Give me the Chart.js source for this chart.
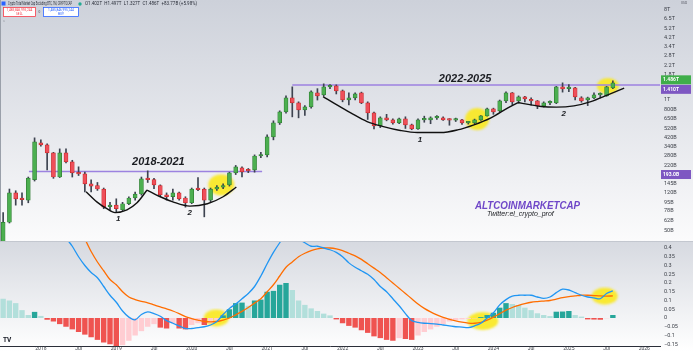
<!DOCTYPE html>
<html>
<head>
<meta charset="utf-8">
<script src="https://cdn.jsdelivr.net/npm/chart.js@4.4.1/dist/chart.umd.min.js"></script>
<style>
  html, body { margin: 0; padding: 0; background: #fff; }
  #chart { display: block; }
</style>
</head>
<body>
<canvas id="chart" width="693" height="351"></canvas>
<script>
// monthly candles, first one is Jul 2017 (index 0), values in billions USD
var open = [36,60,118,103,100,160,374,357,296,170,
  296,241,187,183,145,140,129,86,89,80,
  92,105,115,163,160,140,113,108,118,105,
  94,129,129,100,129,135,142,187,210,200,
  200,276,283,429,592,762,1052,938,798,855,
  1180,1127,1355,1387,1236,1005,1052,1180,938,745,
  552,664,634,592,649,565,515,634,634,664,
  664,634,630,634,592,592,634,695,817,780,
  982,1180,982,1076,985,982,875,938,938,1355,
  1300,1324,1052,1005,1052,1127,1102,1324];
var high = [75,129,124,118,170,419,400,365,300,325,
  325,250,215,190,159,150,132,95,103,95,
  108,120,170,196,165,142,118,129,120,108,
  132,168,132,132,140,145,190,222,215,207,
  283,300,449,620,780,1100,1355,960,880,1236,
  1300,1452,1430,1419,1260,1180,1180,1200,960,760,
  680,720,650,660,680,575,650,690,680,700,
  680,650,660,640,610,645,700,830,830,1000,
  1208,1190,1100,1090,1050,990,960,980,1370,1486,
  1430,1340,1080,1070,1180,1180,1370,1560];
var low = [34,59,89,89,94,155,345,200,165,168,
  235,170,176,121,121,125,82,80,76,78,
  90,100,112,150,130,110,100,100,100,85,
  92,124,68,96,125,130,138,180,170,188,
  190,265,270,400,570,740,679,664,700,830,
  1000,1100,1300,1150,960,895,1000,920,640,515,
  530,620,575,580,520,505,510,600,580,640,
  625,560,610,570,575,580,625,690,720,760,
  940,900,930,960,890,820,850,900,920,1200,
  1210,1000,950,880,1030,1050,1090,1300];
var close = [60,118,103,101,166,382,357,296,170,296,
  241,187,183,145,138,129,85,87,82,92,
  105,115,163,160,142,113,108,118,103,94,
  129,127,100,129,135,140,187,215,191,196,
  276,283,429,592,762,1052,938,798,855,1208,
  1102,1355,1370,1236,1005,1052,1153,938,745,552,
  664,634,592,649,565,515,634,640,664,670,
  634,630,634,592,595,634,695,817,762,982,
  1180,959,1076,1028,980,875,938,940,1355,1294,
  1340,1076,982,1052,1127,1153,1355,1486];

// MACD pane
var macdLine = [0.75,0.8,0.82,0.8,0.78,0.8,0.78,0.72,0.64,0.55,
  0.46,0.41,0.35,0.3,0.26,0.23,0.18,0.13,0.09,0.04,
  0.005,-0.01,0.02,0.035,0.025,0.01,-0.015,-0.03,-0.045,-0.06,
  -0.06,-0.055,-0.05,-0.04,-0.02,0.02,0.055,0.08,0.11,0.14,
  0.18,0.24,0.31,0.375,0.43,0.48,0.47,0.45,0.43,0.41,
  0.41,0.4,0.39,0.375,0.35,0.315,0.29,0.27,0.25,0.22,
  0.18,0.15,0.11,0.07,0.025,-0.015,-0.025,-0.03,-0.032,-0.035,
  -0.04,-0.045,-0.05,-0.052,-0.055,-0.045,-0.03,0.0,0.03,0.075,
  0.105,0.125,0.13,0.13,0.13,0.12,0.112,0.12,0.145,0.165,
  0.16,0.145,0.13,0.12,0.115,0.11,0.14,0.155];
var signalLine = [0.8,0.82,0.84,0.85,0.85,0.84,0.82,0.8,0.76,0.7,
  0.63,0.56,0.5,0.45,0.38,0.32,0.27,0.22,0.19,0.15,
  0.12,0.105,0.095,0.087,0.075,0.063,0.052,0.04,0.025,0.008,
  -0.003,-0.012,-0.02,-0.022,-0.02,-0.012,0.0,0.018,0.038,0.06,
  0.085,0.11,0.15,0.19,0.24,0.29,0.32,0.35,0.37,0.385,
  0.395,0.4,0.4,0.395,0.385,0.37,0.355,0.335,0.31,0.285,
  0.26,0.23,0.2,0.17,0.14,0.11,0.08,0.055,0.035,0.018,
  0.003,-0.008,-0.017,-0.024,-0.029,-0.03,-0.025,-0.012,0.005,0.025,
  0.045,0.06,0.072,0.082,0.09,0.094,0.097,0.1,0.108,0.116,
  0.122,0.126,0.13,0.13,0.128,0.126,0.125,0.126];
var histogram = [0.11,0.1,0.085,0.045,0.017,0.035,0.012,-0.01,-0.02,-0.035,
  -0.05,-0.065,-0.08,-0.095,-0.11,-0.125,-0.14,-0.15,-0.16,-0.155,
  -0.13,-0.1,-0.075,-0.05,-0.035,-0.055,-0.06,-0.03,-0.06,-0.065,
  -0.04,-0.03,-0.04,-0.03,-0.015,0.015,0.05,0.085,0.088,0.07,
  0.1,0.105,0.15,0.155,0.19,0.2,0.16,0.1,0.075,0.055,
  0.04,0.025,0.015,-0.008,-0.03,-0.045,-0.055,-0.07,-0.085,-0.105,
  -0.115,-0.125,-0.13,-0.115,-0.12,-0.125,-0.1,-0.08,-0.065,-0.05,
  -0.035,-0.02,-0.012,-0.008,-0.005,-0.002,0.005,0.017,0.03,0.059,
  0.085,0.08,0.074,0.059,0.045,0.027,0.017,0.011,0.036,0.037,
  0.04,0.017,0.008,-0.008,-0.009,-0.01,-0.002,0.017];

// axis ticks
var xTickIdx  = [6,12,18,24,30,36,42,48,54,60,66,72,78,84,90,96,102];
var xTickText = ['2018','Jul','2019','Jul','2020','Jul','2021','Jul','2022','Jul','2023','Jul','2024','Jul','2025','Jul','2026'];
var priceTicks = [8000,6500,5200,4200,3400,2800,2200,1800,1200,1000,800,650,520,420,340,280,220,145,120,95,78,62,50];
var priceTickText = ['8T','6.5T','5.2T','4.2T','3.4T','2.8T','2.2T','1.8T','1.2T','1T','800B','650B','520B','420B','340B','280B','220B','145B','120B','95B','78B','62B','50B'];
var macdTicks = [0.4,0.35,0.3,0.25,0.2,0.15,0.1,0.05,0,-0.05,-0.1,-0.15];
var macdTickText = ['0.4','0.35','0.3','0.25','0.2','0.15','0.1','0.05','0','\u22120.05','\u22120.1','\u22120.15'];

// drawn annotations (month index, value)
var level1X = [4.1, 41.2], level1 = 193;
var level2X = [46, 104.5], level2 = 1410;
var arc1X = [13.2,14.9,16.5,17.8,19.7,21.3,22.9], arc1Y = [121,96,82,75,80,94,126];
var arc2X = [22.9,25.0,27.0,29.7,32.5,35.0,37.1], arc2Y = [126,108,96,87,92,108,135];
var arc3X = [50.9,53.1,55.3,57.9,60.5,63.2,65.9,69.6,72.3,74.9,77.6,80.3,81.9];
var arc3Y = [1084,895,745,610,543,496,473,473,503,565,664,836,944];
var arc4X = [81.9,84.0,85.6,88.0,90.8,93.5,96.2,98.8], arc4Y = [944,895,861,849,875,966,1127,1316];
var spotPriceX = [34.7, 75.4, 96.2], spotPriceY = [142, 646, 1381];
var spotMacdX = [33.9, 76.3, 95.7], spotMacdY = [0, -0.017, 0.125];
var noteText = ['2018-2021', '2022-2025', '1', '2', '1', '2'];
var noteX = [24.7, 73.5, 18.3, 29.7, 66.3, 89.2];
var noteY = [242, 1623, 65, 74, 399, 726];

function pts(xs, ys) { return xs.map(function (x, i) { return { x: x, y: ys[i] }; }); }
function series(arr) { return arr.map(function (v, i) { return { x: i, y: v }; }); }

// yellow highlighter blobs
function blob(w, h) {
  var c = document.createElement('canvas');
  c.width = w + 4; c.height = h + 4;
  var g = c.getContext('2d');
  g.filter = 'blur(0.8px)';
  g.fillStyle = 'rgba(250,232,35,0.93)';
  g.beginPath();
  g.ellipse(c.width / 2, c.height / 2, w / 2, h / 2, 0, 0, Math.PI * 2);
  g.fill();
  return c;
}

function isUp(i) { return close[i] >= open[i]; }

function histColor(ctx) {
  var i = ctx.dataIndex, v = histogram[i], prev = i > 0 ? histogram[i - 1] : v + 1;
  if (v >= 0) return v > prev ? '#26a69a' : '#b2dfdb';
  return v < prev ? '#ef5350' : '#ffcdd2';
}

function fmt(v) { return v >= 1000 ? (v / 1000).toFixed(3) + 'T' : v.toFixed(1) + 'B'; }

function noPad(s) { s.paddingTop = 0; s.paddingBottom = 0; s.paddingLeft = 0; s.paddingRight = 0; }

// pane backgrounds
var panesBg = {
  id: 'panesBg',
  beforeDraw: function (chart) {
    var ctx = chart.ctx, p = chart.scales.price, m = chart.scales.macd, w = chart.width;
    var g = ctx.createLinearGradient(0, 0, 0, p.bottom);
    g.addColorStop(0, '#cdd1da');
    g.addColorStop(0.5, '#e4e6eb');
    g.addColorStop(1, '#fbfbfc');
    ctx.fillStyle = g;
    ctx.fillRect(0, 0, w, p.bottom);
    g = ctx.createLinearGradient(0, m.top, 0, chart.height);
    g.addColorStop(0, '#d6d9e0');
    g.addColorStop(1, '#ffffff');
    ctx.fillStyle = g;
    ctx.fillRect(0, m.top, w, chart.height - m.top);
  }
};

// keep every dataset inside its own pane
var paneClip = {
  id: 'paneClip',
  beforeDatasetDraw: function (chart, args) {
    var ys = chart.scales[args.meta.yAxisID], a = chart.chartArea, ctx = chart.ctx;
    ctx.save();
    ctx.beginPath();
    ctx.rect(a.left, ys.top, a.right - a.left, ys.bottom - ys.top);
    ctx.clip();
  },
  afterDatasetDraw: function (chart) { chart.ctx.restore(); }
};

var overlay = {
  id: 'overlay',
  afterDraw: function (chart) {
    var ctx = chart.ctx, xs = chart.scales.x, p = chart.scales.price, m = chart.scales.macd;
    ctx.save();

    // pane separator and left edge
    ctx.fillStyle = '#c3c7cf';
    ctx.fillRect(0, m.top, chart.width, 1);
    ctx.fillStyle = '#9aa0aa';
    ctx.fillRect(0, 0, 1, p.bottom);

    // hand written notes
    ctx.fillStyle = '#1b1d22';
    ctx.textAlign = 'center';
    ctx.textBaseline = 'middle';
    noteText.forEach(function (t, i) {
      ctx.font = i < 2 ? 'bold italic 11px "Liberation Sans"' : 'bold italic 8px "Liberation Sans"';
      ctx.fillText(t, xs.getPixelForValue(noteX[i]), p.getPixelForValue(noteY[i]));
    });

    // watermark
    ctx.textAlign = 'left';
    ctx.fillStyle = '#6f47c8';
    ctx.font = 'bold italic 10.5px "Liberation Sans"';
    ctx.fillText('ALTCOINMARKETCAP', 475, 206, 105);
    ctx.fillStyle = '#1b1d22';
    ctx.font = 'italic 7px "Liberation Sans"';
    ctx.fillText('Twitter:el_crypto_prof', 487, 214, 74);

    // header
    ctx.fillStyle = '#2962ff';
    ctx.fillRect(1.5, 1.5, 4, 4);
    ctx.fillStyle = '#2a2e39';
    ctx.font = '4.5px Roboto';
    ctx.fillText('Crypto Total Market Cap Excluding BTC, 1M, CRYPTOCAP', 8, 4, 64);
    ctx.fillStyle = '#22ab94';
    ctx.beginPath(); ctx.arc(80, 4, 1.7, 0, Math.PI * 2); ctx.fill();
    ctx.fillStyle = '#2a2e39';
    ctx.fillText('O1.402T  H1.497T  L1.327T  C1.486T  +83.77B (+5.98%)', 85, 4, 148);
    ctx.lineWidth = 0.8;
    ctx.strokeStyle = '#f23645'; ctx.fillStyle = '#ffffff';
    ctx.fillRect(3, 7, 33, 10); ctx.strokeRect(3.5, 7.5, 32, 9);
    ctx.strokeStyle = '#2962ff';
    ctx.fillRect(43, 7, 36, 10); ctx.strokeRect(43.5, 7.5, 35, 9);
    ctx.textAlign = 'center';
    ctx.font = '3.2px Roboto';
    ctx.fillStyle = '#f23645';
    ctx.fillText('1,485,846,995,244', 19.5, 10.5, 30);
    ctx.fillText('SELL', 19.5, 14.2);
    ctx.fillStyle = '#2962ff';
    ctx.fillText('1,485,846,995,244', 61, 10.5, 32);
    ctx.fillText('BUY', 61, 14.2);
    ctx.fillStyle = '#50535e';
    ctx.fillText('0', 39.5, 12);
    ctx.fillText('\u02c4', 4, 21);
    ctx.fillText('USD', 684, 3);

    // axis price tags
    function tag(y, bg, text) {
      ctx.fillStyle = bg;
      ctx.fillRect(661, y - 4.5, 30, 9);
      ctx.fillStyle = '#ffffff';
      ctx.font = 'bold 5px Roboto';
      ctx.textAlign = 'left';
      ctx.fillText(text, 663, y);
    }
    var last = close.length - 1;
    var yc = p.getPixelForValue(close[last]);
    tag(yc - 3, '#3fae4a', fmt(close[last]));
    tag(yc + 6.5, '#7e57c2', fmt(level2));
    tag(p.getPixelForValue(level1) + 3, '#7e57c2', fmt(level1));

    // logo
    ctx.fillStyle = '#131722';
    ctx.font = 'bold 6.5px Roboto';
    ctx.textAlign = 'left';
    ctx.fillText('TV', 3, 340);
    ctx.restore();
  }
};

var ctx = document.getElementById('chart').getContext('2d');
var chart = new Chart(ctx, {
  type: 'bar',
  data: {
    datasets: [
      { type: 'scatter', yAxisID: 'price', data: pts(spotPriceX, spotPriceY), order: 20,
        pointRadius: 5, pointStyle: [blob(26, 21), blob(24, 22), blob(22, 16)] },
      { type: 'scatter', yAxisID: 'macd', data: pts(spotMacdX, spotMacdY), order: 20,
        pointRadius: 5, pointStyle: [blob(25, 17), blob(31, 18), blob(26, 17)] },
      { type: 'bar', yAxisID: 'macd', data: series(histogram), order: 10, grouped: false,
        backgroundColor: histColor, categoryPercentage: 1, barPercentage: 0.86 },
      { type: 'line', yAxisID: 'macd', data: series(signalLine), order: 6,
        borderColor: '#ff6d00', borderWidth: 1.3, pointRadius: 0, tension: 0.3 },
      { type: 'line', yAxisID: 'macd', data: series(macdLine), order: 5,
        borderColor: '#2196f3', borderWidth: 1.3, pointRadius: 0, tension: 0.3 },
      { type: 'line', yAxisID: 'price', data: pts(level1X, [level1, level1]), order: 7,
        borderColor: '#9c82e0', borderWidth: 1.5, pointRadius: 0 },
      { type: 'line', yAxisID: 'price', data: pts(level2X, [level2, level2]), order: 7,
        borderColor: '#9c82e0', borderWidth: 1.5, pointRadius: 0 },
      { type: 'bar', yAxisID: 'price', order: 3, grouped: false, barThickness: 1,
        data: high.map(function (h, i) { return { x: i, y: [low[i], h] }; }),
        backgroundColor: '#3d4350' },
      { type: 'bar', yAxisID: 'price', order: 2, grouped: false, barThickness: 4, minBarLength: 1.5,
        data: open.map(function (o, i) { return { x: i, y: [o, close[i]] }; }),
        backgroundColor: function (c) { return isUp(c.dataIndex) ? '#4caf50' : '#ef4f5a'; },
        borderColor: function (c) { return isUp(c.dataIndex) ? '#2e7d32' : '#c62828'; },
        borderWidth: 0.7, borderSkipped: false },
      { type: 'line', yAxisID: 'price', data: pts(arc1X, arc1Y), order: 1,
        borderColor: '#111111', borderWidth: 1.4, pointRadius: 0, cubicInterpolationMode: 'monotone' },
      { type: 'line', yAxisID: 'price', data: pts(arc2X, arc2Y), order: 1,
        borderColor: '#111111', borderWidth: 1.4, pointRadius: 0, cubicInterpolationMode: 'monotone' },
      { type: 'line', yAxisID: 'price', data: pts(arc3X, arc3Y), order: 1,
        borderColor: '#111111', borderWidth: 1.4, pointRadius: 0, cubicInterpolationMode: 'monotone' },
      { type: 'line', yAxisID: 'price', data: pts(arc4X, arc4Y), order: 1,
        borderColor: '#111111', borderWidth: 1.4, pointRadius: 0, cubicInterpolationMode: 'monotone' }
    ]
  },
  options: {
    responsive: false,
    devicePixelRatio: 1,
    animation: false,
    layout: { padding: 0, autoPadding: false },
    plugins: { legend: { display: false }, tooltip: { enabled: false } },
    scales: {
      x: {
        type: 'linear', min: -0.5, max: 104.5, offset: false,
        grid: { display: false, drawTicks: false },
        border: { display: true, color: '#2a2e39', width: 1 },
        afterBuildTicks: function (s) { s.ticks = xTickIdx.map(function (v) { return { value: v }; }); },
        ticks: { autoSkip: false, maxRotation: 0, padding: 0, color: '#3b3f47',
          font: { size: 5, family: 'Roboto' },
          callback: function (v, i) { return xTickText[i]; } },
        afterFit: function (s) { s.height = 5; noPad(s); }
      },
      price: {
        type: 'logarithmic', position: 'right', stack: 'panes', stackWeight: 241,
        min: 39, max: 10000,
        grid: { display: false, drawTicks: false }, border: { display: false },
        afterBuildTicks: function (s) { s.ticks = priceTicks.map(function (v) { return { value: v }; }); },
        ticks: { autoSkip: false, padding: 4, color: '#3b3f47', font: { size: 5.5, family: 'Roboto' },
          callback: function (v, i) { return priceTickText[i]; } },
        afterFit: function (s) { s.width = 33; noPad(s); }
      },
      macd: {
        type: 'linear', position: 'right', stack: 'panes', stackWeight: 105,
        min: -0.16, max: 0.44,
        grid: { display: false, drawTicks: false }, border: { display: false },
        afterBuildTicks: function (s) { s.ticks = macdTicks.map(function (v) { return { value: v }; }); },
        ticks: { autoSkip: false, padding: 4, color: '#3b3f47', font: { size: 5.5, family: 'Roboto' },
          callback: function (v, i) { return macdTickText[i]; } },
        afterFit: function (s) { s.width = 33; noPad(s); }
      }
    }
  },
  plugins: [panesBg, paneClip, overlay]
});
</script>
</body>
</html>
